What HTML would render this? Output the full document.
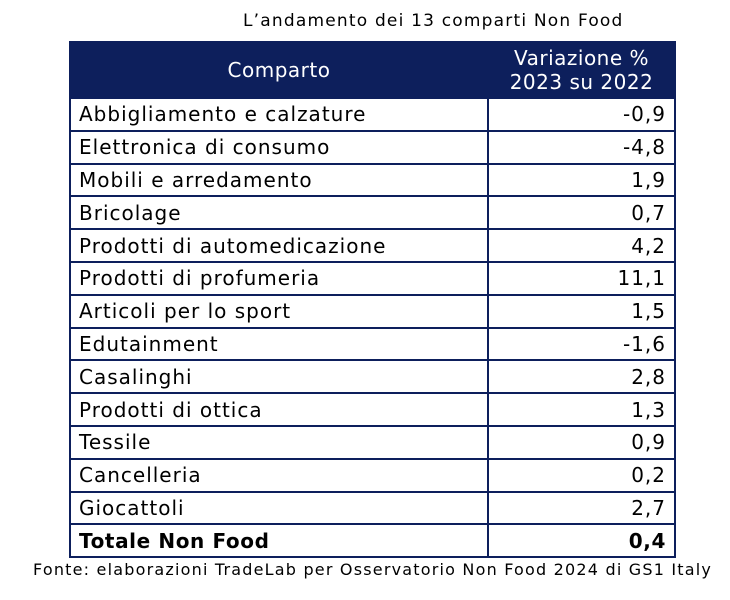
<!DOCTYPE html>
<html><head><meta charset="utf-8"><style>
body{margin:0;width:730px;height:600px;background:#fff;font-family:"DejaVu Sans","Liberation Sans",sans-serif;position:relative;overflow:hidden}
.t{position:absolute;white-space:nowrap;color:#000}
#tbl{position:absolute;left:69px;top:41px;width:605px;border-collapse:collapse;table-layout:fixed}
#tbl td,#tbl th{border:2px solid #0d1f5c;padding:0 8px;height:30.8px;font-size:20px;letter-spacing:1px;font-weight:normal;white-space:nowrap;line-height:30px}
#tbl th{background:#0d1f5c;color:#fff;height:54px;line-height:24px;text-align:center;letter-spacing:0.5px}
#tbl td.v{text-align:right}
#tbl tr.tot td{font-weight:bold;letter-spacing:0.6px}
</style></head><body>
<div class="t" style="left:243px;top:11px;font-size:17px;letter-spacing:1.2px">L’andamento dei 13 comparti Non Food</div>
<table id="tbl">
<colgroup><col style="width:418px"><col style="width:187px"></colgroup>
<thead><tr><th>Comparto</th><th>Variazione %<br>2023 su 2022</th></tr></thead>
<tbody id="body"></tbody>
</table>
<div class="t" style="left:33px;top:560px;font-size:16px;letter-spacing:1.2px">Fonte: elaborazioni TradeLab per Osservatorio Non Food 2024 di GS1 Italy</div>
<script>
const categories=["Abbigliamento e calzature","Elettronica di consumo","Mobili e arredamento","Bricolage","Prodotti di automedicazione","Prodotti di profumeria","Articoli per lo sport","Edutainment","Casalinghi","Prodotti di ottica","Tessile","Cancelleria","Giocattoli","Totale Non Food"];
const values=[-0.9,-4.8,1.9,0.7,4.2,11.1,1.5,-1.6,2.8,1.3,0.9,0.2,2.7,0.4];
const tb=document.getElementById('body');
categories.forEach((c,i)=>{
const tr=document.createElement('tr');


if(i===categories.length-1)tr.className='tot';
const a=document.createElement('td');


a.textContent=c;
const b=document.createElement('td');


b.className='v';
b.textContent=values[i].toFixed(1).replace('.',',');
tr.appendChild(a);tr.appendChild(b);tb.appendChild(tr);
});
</script>
</body></html>
